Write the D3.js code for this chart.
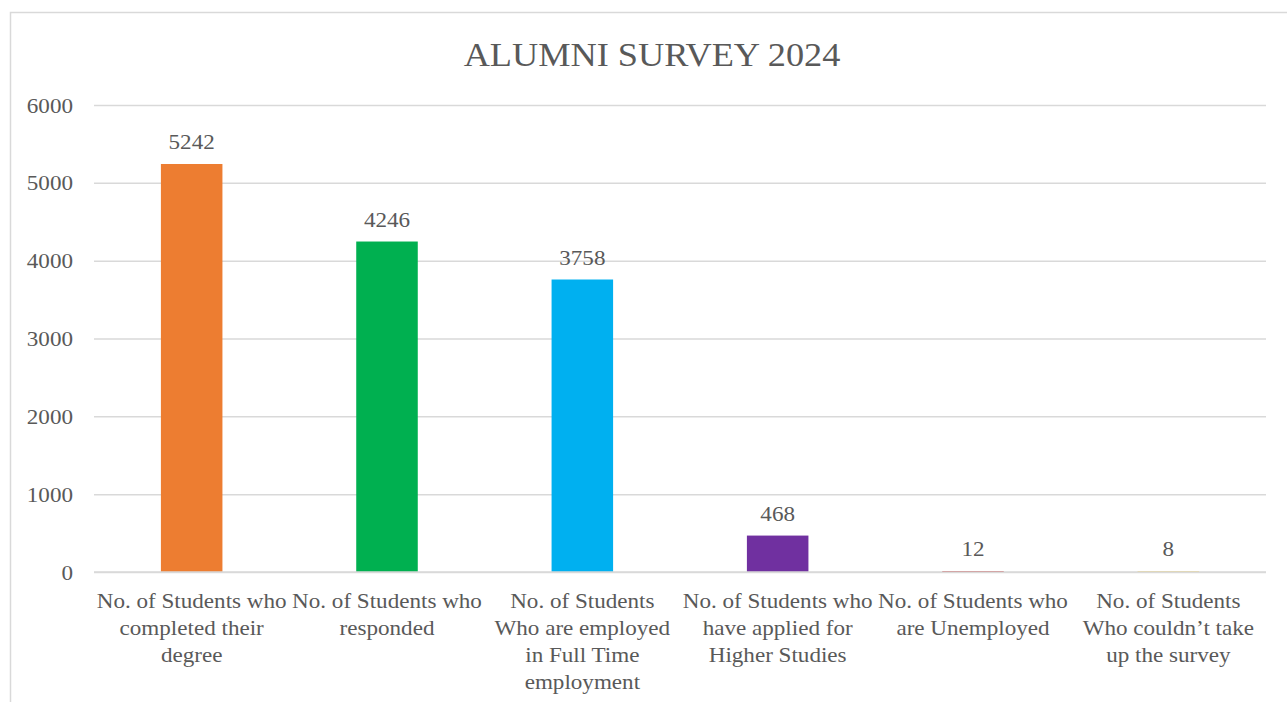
<!DOCTYPE html>
<html>
<head>
<meta charset="utf-8">
<script src="https://cdn.jsdelivr.net/npm/d3@7"></script>
<style>
html,body{margin:0;padding:0;background:#fff;}
svg{display:block;}
text{font-family:"Liberation Serif","Times New Roman",serif;fill:#595959;}
</style>
</head>
<body>
<svg id="chart" width="1287" height="702"></svg>
<script>
const categories = [
  ["No. of Students who", "completed their", "degree"],
  ["No. of Students who", "responded"],
  ["No. of Students", "Who are employed", "in Full Time", "employment"],
  ["No. of Students who", "have applied for", "Higher Studies"],
  ["No. of Students who", "are Unemployed"],
  ["No. of Students", "Who couldn\u2019t take", "up the survey"]
];
const values = [5242, 4246, 3758, 468, 12, 8];
const colors = ["#ED7D31", "#00B050", "#00B0F0", "#7030A0", "#C00000", "#FFC000"];
const yTicks = [0, 1000, 2000, 3000, 4000, 5000, 6000];
const title = "ALUMNI SURVEY 2024";

(function () {
const svg = d3.select("#chart");
const SX = 1.1;

// outer frame
svg.append("path")
  .attr("d", "M10.5,702 L10.5,12.5 L1287,12.5")
  .attr("fill", "none").attr("stroke", "#d9d9d9").attr("stroke-width", 1.5);

const mLeft = 94, mRight = 1266, mTop = 105, mBottom = 572;
const x = d3.scaleBand().domain(d3.range(values.length)).range([mLeft, mRight]).paddingInner(0.685).paddingOuter(0.3425);
const y = d3.scaleLinear().domain([0, 6000]).range([mBottom, mTop]);

function stretched(g, px, py) {
  return g.append("text").attr("transform", `translate(${px},${py}) scale(${SX},1)`);
}

stretched(svg, 652, 66).attr("text-anchor", "middle")
  .style("font-size", "33px").text(title);

// gridlines
const yAxis = d3.axisLeft(y).tickValues(yTicks).tickSize(-(mRight - mLeft)).tickFormat(d3.format("d"));
const gy = svg.append("g").attr("transform", `translate(${mLeft},0)`).call(yAxis);
gy.select(".domain").remove();
gy.selectAll(".tick line").attr("stroke", "#d9d9d9").attr("stroke-width", 1.5);
gy.selectAll(".tick text")
  .style("font-size", "21px").attr("fill", "#595959")
  .attr("x", null).attr("dy", null)
  .attr("transform", `translate(-21,7) scale(${SX},1)`);

// bars
svg.append("g").selectAll("rect").data(values).join("rect")
  .attr("x", (d, i) => x(i))
  .attr("width", x.bandwidth())
  .attr("y", d => y(d))
  .attr("height", d => y(0) - y(d))
  .attr("fill", (d, i) => colors[i]);

// horizontal axis line drawn over the bars
svg.append("line")
  .attr("x1", mLeft).attr("x2", mRight).attr("y1", y(0)).attr("y2", y(0))
  .attr("stroke", "#d9d9d9").attr("stroke-width", 1.5);

// value labels
const gl = svg.append("g");
values.forEach((v, i) => {
  stretched(gl, x(i) + x.bandwidth() / 2, y(v) - 15)
    .attr("text-anchor", "middle").style("font-size", "21px").text(v);
});

// category labels
const gx = svg.append("g");
categories.forEach((lines, i) => {
  const cx = x(i) + x.bandwidth() / 2;
  const t = stretched(gx, cx, 608).attr("text-anchor", "middle").style("font-size", "21px");
  lines.forEach((ln, j) => {
    t.append("tspan").attr("x", 0).attr("dy", j === 0 ? 0 : 27).text(ln);
  });
});
})();
</script>
</body>
</html>
